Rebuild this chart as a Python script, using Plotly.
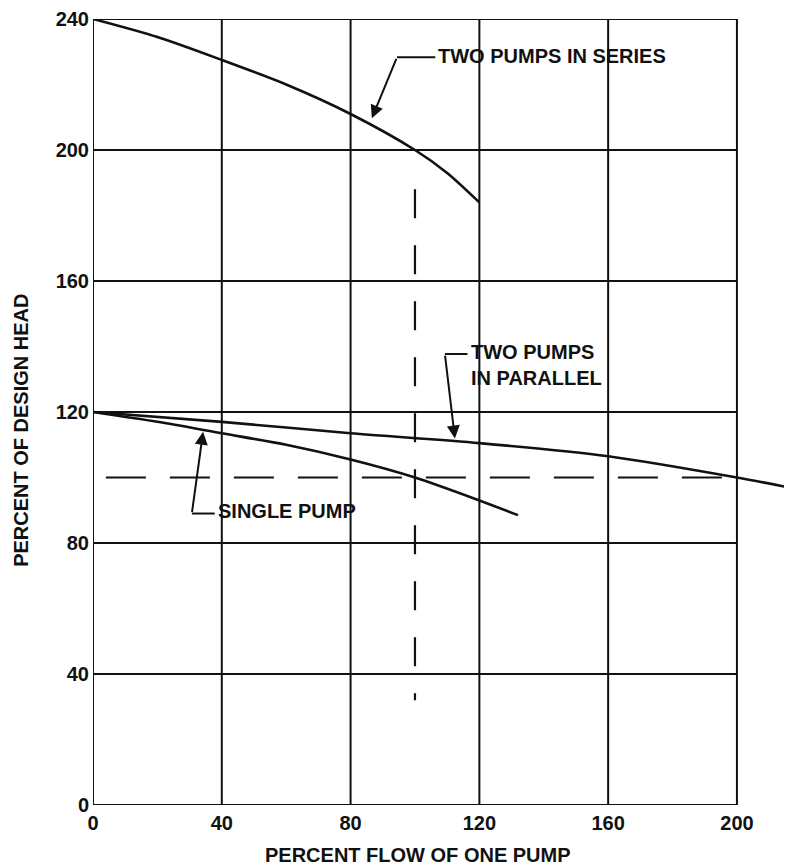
import plotly.graph_objects as go

# ---- data ----
x_ticks = [0, 40, 80, 120, 160, 200]
y_ticks = [0, 40, 80, 120, 160, 200, 240]

series_flow = [0, 20, 40, 60, 80, 100, 110, 120]
series_head = [240, 234.5, 227.5, 220, 211, 200, 193, 184]

single_flow = [0, 20, 40, 60, 80, 100, 120, 132]
single_head = [120, 117, 113.5, 110, 105.5, 100, 93, 88.5]

parallel_flow = [0, 40, 80, 120, 160, 200, 216]
parallel_head = [120, 117, 113.5, 110.5, 106.5, 100, 97]

design_head_flow = [4, 200]
design_head_head = [100, 100]
design_flow_flow = [100, 100]
design_flow_head = [188, 32]

FONT = "Liberation Sans, Arial, Helvetica, sans-serif"
BLACK = "#111111"

fig = go.Figure()

curve = dict(color=BLACK, width=2.6, shape="spline", smoothing=0.8)
fig.add_trace(go.Scatter(x=series_flow, y=series_head, mode="lines", line=curve, name="Two pumps in series"))
fig.add_trace(go.Scatter(x=single_flow, y=single_head, mode="lines", line=curve, name="Single pump"))
fig.add_trace(go.Scatter(x=parallel_flow, y=parallel_head, mode="lines", line=curve, name="Two pumps in parallel"))
fig.add_trace(go.Scatter(x=design_head_flow, y=design_head_head, mode="lines",
                         line=dict(color=BLACK, width=2, dash="40px,24px"), name="Design head"))
fig.add_trace(go.Scatter(x=design_flow_flow, y=design_flow_head, mode="lines",
                         line=dict(color=BLACK, width=2.2, dash="29px,27px"), name="Design flow"))

# grid and frame built from the tick lists (frame stops at the last x tick)
shapes = []
grid = dict(color=BLACK, width=2)
for xv in x_ticks:
    shapes.append(dict(type="line", xref="x", yref="y", x0=xv, x1=xv, y0=y_ticks[0], y1=y_ticks[-1],
                       line=grid, layer="below"))
for yv in y_ticks:
    shapes.append(dict(type="line", xref="x", yref="y", x0=x_ticks[0], x1=x_ticks[-1], y0=yv, y1=yv,
                       line=grid, layer="below"))

# annotation leaders (elbow -> text)
leaders = [
    ((94.4, 228.3), (106.3, 228.3)),
    ((109.3, 137.7), (116.3, 137.7)),
    ((30.7, 89.0), (37.8, 89.0)),
]
for (x0, y0), (x1, y1) in leaders:
    shapes.append(dict(type="line", xref="x", yref="y", x0=x0, y0=y0, x1=x1, y1=y1,
                       line=dict(color=BLACK, width=2)))

ann_font = dict(family=FONT, size=20, color=BLACK, weight="bold")
annotations = [
    dict(x=106.6, y=228.6, text="TWO PUMPS IN SERIES", xanchor="left", yanchor="middle",
         showarrow=False, font=ann_font),
    dict(x=116.8, y=134.3, text="TWO PUMPS<br>IN PARALLEL", xanchor="left", yanchor="middle",
         align="left", showarrow=False, font=ann_font),
    dict(x=38.3, y=89.7, text="SINGLE PUMP", xanchor="left", yanchor="middle",
         showarrow=False, font=ann_font),
]
arrows = [
    ((86.6, 209.7), (94.4, 228.3)),
    ((112.4, 111.9), (109.3, 137.7)),
    ((34.2, 114.0), (30.7, 89.0)),
]
for (tx, ty), (ex, ey) in arrows:
    annotations.append(dict(x=tx, y=ty, ax=ex, ay=ey, axref="x", ayref="y", xref="x", yref="y",
                            text="", showarrow=True, arrowhead=2, arrowsize=1.3, arrowwidth=2,
                            arrowcolor=BLACK))

# axis titles
annotations.append(dict(xref="paper", yref="paper", x=101 / 217.1, y=0, yshift=-50,
                        text="PERCENT FLOW OF ONE PUMP", showarrow=False, xanchor="center",
                        yanchor="middle", font=dict(family=FONT, size=20, color=BLACK, weight="bold")))
annotations.append(dict(xref="paper", yref="paper", x=0, xshift=-72, y=0.476,
                        text="PERCENT OF DESIGN HEAD", showarrow=False, textangle=-90,
                        xanchor="center", yanchor="middle",
                        font=dict(family=FONT, size=20, color=BLACK, weight="bold")))

tick_font = dict(family=FONT, size=20, color=BLACK, weight="bold")
# the page body adds an 8px offset, so the figure is sized to fill the rest of the window
fig.update_layout(
    width=784, height=857,
    margin=dict(l=85, r=0, t=7, b=60),
    paper_bgcolor="white", plot_bgcolor="white",
    showlegend=False,
    shapes=shapes,
    annotations=annotations,
    xaxis=dict(range=[0, 217.1], tickvals=x_ticks, ticktext=[str(v) for v in x_ticks],
               showgrid=False, zeroline=False, showline=False, ticks="",
               tickfont=tick_font, ticklabelstandoff=4, ticklabeloverflow="allow", fixedrange=True),
    yaxis=dict(range=[0, 240], tickvals=y_ticks, ticktext=[str(v) for v in y_ticks],
               showgrid=False, zeroline=False, showline=False, ticks="",
               tickfont=tick_font, ticklabelstandoff=3, ticklabeloverflow="allow", fixedrange=True),
)

fig.write_html("out.html")
